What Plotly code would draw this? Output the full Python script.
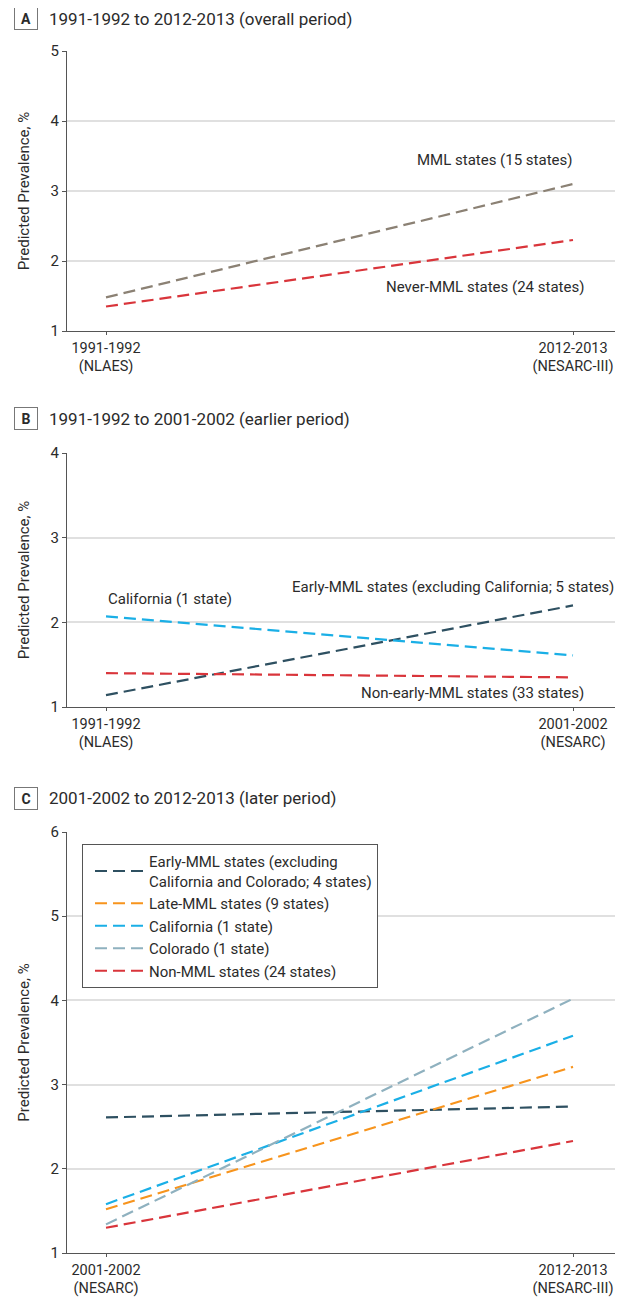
import plotly.graph_objects as go

# page body adds an 8px margin; the figure is sized to fill the rest of the window
OFF = 8
W, H = 623 - OFF, 1299 - OFF

# ---------------- data ----------------
a_periods = ["1991-1992<br>(NLAES)", "2012-2013<br>(NESARC-III)"]
a_mml = [1.48, 3.10]
a_never = [1.35, 2.30]

b_periods = ["1991-1992<br>(NLAES)", "2001-2002<br>(NESARC)"]
b_early = [1.14, 2.20]
b_california = [2.07, 1.61]
b_nonearly = [1.40, 1.35]

c_periods = ["2001-2002<br>(NESARC)", "2012-2013<br>(NESARC-III)"]
c_early = [2.61, 2.74]
c_late = [1.52, 3.21]
c_california = [1.58, 3.58]
c_colorado = [1.34, 4.02]
c_nonmml = [1.30, 2.33]

c_names = [
    "Early-MML states (excluding<br>California and Colorado; 4 states)",
    "Late-MML states (9 states)",
    "California (1 state)",
    "Colorado (1 state)",
    "Non-MML states (24 states)",
]

# ---------------- style ----------------
FONT = "Roboto, Liberation Sans, Arial, sans-serif"
TXT = "#2b2b2b"
DARK = "#2e5061"
ORANGE = "#f7941d"
CYAN = "#1aafe6"
GREYBLUE = "#8fb1bf"
RED = "#d9353b"
BROWN = "#8b8174"
DASH = "12px,6px"
LW = 2.2

def px(p):
    return (p - OFF) / W

def py(p):
    return 1 - (p - OFF) / H

xdom = [px(67), px(615)]
xr = [-(106 - 67) / 467, 1 + (615 - 573) / 467]
xs = [0, 1]

fig = go.Figure()

def add(xa, ya, y, color, name=None, show=False):
    fig.add_trace(go.Scatter(
        x=xs, y=y, mode="lines", xaxis=xa, yaxis=ya,
        line=dict(color=color, width=LW, dash=DASH),
        name=name, showlegend=show, hoverinfo="skip"))

# Panel A
add("x", "y", a_mml, BROWN)
add("x", "y", a_never, RED)
# Panel B
add("x2", "y2", b_early, DARK)
add("x2", "y2", b_california, CYAN)
add("x2", "y2", b_nonearly, RED)
# Panel C
for vals, col, nm in zip([c_early, c_late, c_california, c_colorado, c_nonmml],
                         [DARK, ORANGE, CYAN, GREYBLUE, RED], c_names):
    add("x3", "y3", vals, col, nm, True)

axis_common = dict(showline=True, linecolor="#555555", linewidth=1.2,
                   ticks="outside", tickcolor="#555555", automargin=False)

def xaxis(labels, anchor):
    return dict(domain=xdom, range=xr, tickvals=xs, ticktext=labels, ticklen=3,
                tickfont=dict(family=FONT, size=14.5, color=TXT),
                showgrid=False, zeroline=False, anchor=anchor, **axis_common)

def yaxis(rng, top, bottom, anchor):
    return dict(domain=[py(bottom), py(top)], range=rng, dtick=1, ticklen=4,
                tickfont=dict(family=FONT, size=15, color=TXT),
                showgrid=True, gridcolor="#e0e0e0", gridwidth=1.5,
                zeroline=False, anchor=anchor,
                title=dict(text="Predicted Prevalence, %",
                           font=dict(family=FONT, size=15, color=TXT),
                           standoff=17),
                **axis_common)

fig.update_layout(
    width=W, height=H, autosize=False,
    margin=dict(l=0, r=0, t=0, b=0, pad=0),
    paper_bgcolor="white", plot_bgcolor="white",
    font=dict(family=FONT, size=15, color=TXT),
    xaxis=xaxis(a_periods, "y"),
    yaxis=yaxis([1, 5], 51, 331, "x"),
    xaxis2=xaxis(b_periods, "y2"),
    yaxis2=yaxis([1, 4], 453, 707, "x2"),
    xaxis3=xaxis(c_periods, "y3"),
    yaxis3=yaxis([1, 6], 832, 1253, "x3"),
    legend=dict(x=px(82), y=py(844), xanchor="left", yanchor="top",
                bgcolor="white", bordercolor="#555555", borderwidth=1,
                font=dict(family=FONT, size=15, color=TXT),
                itemwidth=49, indentation=7, tracegroupgap=0),
)

annotations = []

def panel_title(letter, text, cy):
    annotations.append(dict(
        x=px(25.5), y=py(cy), xref="paper", yref="paper",
        text="<b>%s</b>" % letter, showarrow=False, xanchor="center", yanchor="middle",
        font=dict(family=FONT, size=14, color=TXT),
        bordercolor="#777777", borderwidth=1, borderpad=2, width=18, height=17))
    annotations.append(dict(
        x=px(47), y=py(cy), xref="paper", yref="paper", text=text,
        showarrow=False, xanchor="left", yanchor="middle",
        font=dict(family=FONT, size=17, color=TXT)))

panel_title("A", "1991-1992 to 2012-2013 (overall period)", 19)
panel_title("B", "1991-1992 to 2001-2002 (earlier period)", 419)
panel_title("C", "2001-2002 to 2012-2013 (later period)", 798)

def label(xa, ya, x, y, text, anchor):
    annotations.append(dict(x=x, y=y, xref=xa, yref=ya, text=text, showarrow=False,
                            xanchor=anchor, yanchor="middle",
                            font=dict(family=FONT, size=15, color=TXT)))

label("x", "y", 1.002, 3.44, "MML states (15 states)", "right")
label("x", "y", 1.028, 1.63, "Never-MML states (24 states)", "right")
label("x2", "y2", 0.0, 2.28, "California (1 state)", "left")
label("paper", "y2", px(616), 2.42, "Early-MML states (excluding California; 5 states)", "right")
label("x2", "y2", 1.028, 1.17, "Non-early-MML states (33 states)", "right")

fig.update_layout(annotations=annotations)

fig.write_html("out.html")
